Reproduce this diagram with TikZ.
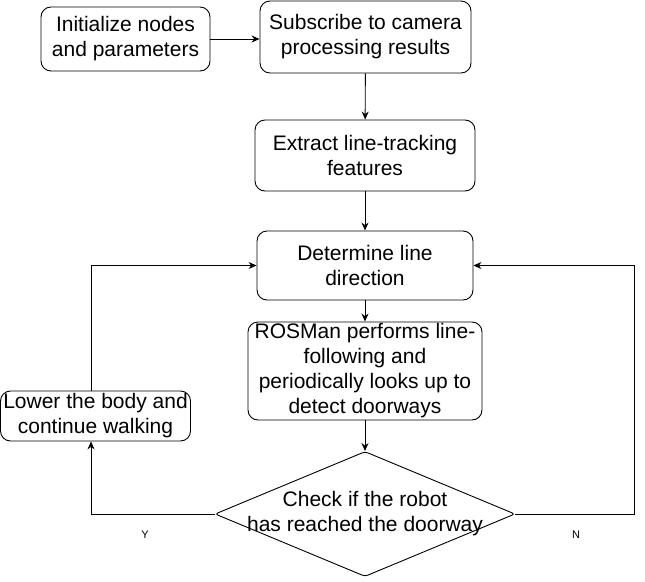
\documentclass[tikz,border=0pt]{standalone}
\usepackage{fontspec}
\setmainfont{Liberation Sans}
\usetikzlibrary{shapes.geometric,arrows.meta,positioning,calc}

\begin{document}
\begin{tikzpicture}[x=1pt, y=-1pt,
    box/.style={draw, rounded corners=10pt, line width=0.9pt, align=center, inner sep=0pt, font=\fontsize{21}{25}\selectfont},
    decision/.style={draw, diamond, rounded corners=3pt, line width=0.9pt, inner sep=0pt, minimum width=300pt, minimum height=125pt},
    arrow/.style={-{Stealth[length=8pt,width=7pt]}, line width=0.9pt},
    yn/.style={font=\fontsize{11}{13}\selectfont}]
    \useasboundingbox (0,0) rectangle (645,581);

    % Steps
    \node [box, minimum width=169pt, minimum height=64pt] (init) at (125.5,39) {Initialize nodes\\and parameters};
    \node [box, minimum width=211pt, minimum height=72pt] (sub) at (365.5,37) {Subscribe to camera\\processing results};
    \node [box, minimum width=220pt, minimum height=71pt] (feat) at (365,155.5) {Extract line-tracking\\features};
    \node [box, minimum width=216pt, minimum height=69pt] (dir) at (365,265.5) {Determine line\\direction};
    \node [box, minimum width=234pt, minimum height=98pt] (rosman) at (365,371) {ROSMan performs line-\\following and\\periodically looks up to\\detect doorways};
    \node [box, minimum width=190pt, minimum height=50pt] (lower) at (95.5,416) {Lower the body and\\continue walking};

    % Decision
    \node [decision] (check) at (365,514) {};
    \node [box, draw=none] (checktext) at (365,514) {Check if the robot\\has reached the doorway};

    % Connections
    \draw [arrow] (init.east) -- (init.east -| sub.west);
    \draw [arrow] (sub) -- (feat);
    \draw [arrow] (feat) -- (dir);
    \draw [arrow] (dir) -- (rosman);
    \draw [arrow] (rosman) -- (check);

    % Loops back
    \draw [arrow] (check.west) -| ([xshift=-4.5pt]lower.south);
    \draw [arrow] ([xshift=-4.5pt]lower.north) |- (dir.west);
    \coordinate (nturn) at (634,514);
    \draw [arrow] (check.east) -- (nturn) |- (dir.east);

    % Labels
    \node [yn] (ylab) at (145,535) {Y};
    \node [yn] (nlab) at (576,535) {N};

\end{tikzpicture}
\end{document}
